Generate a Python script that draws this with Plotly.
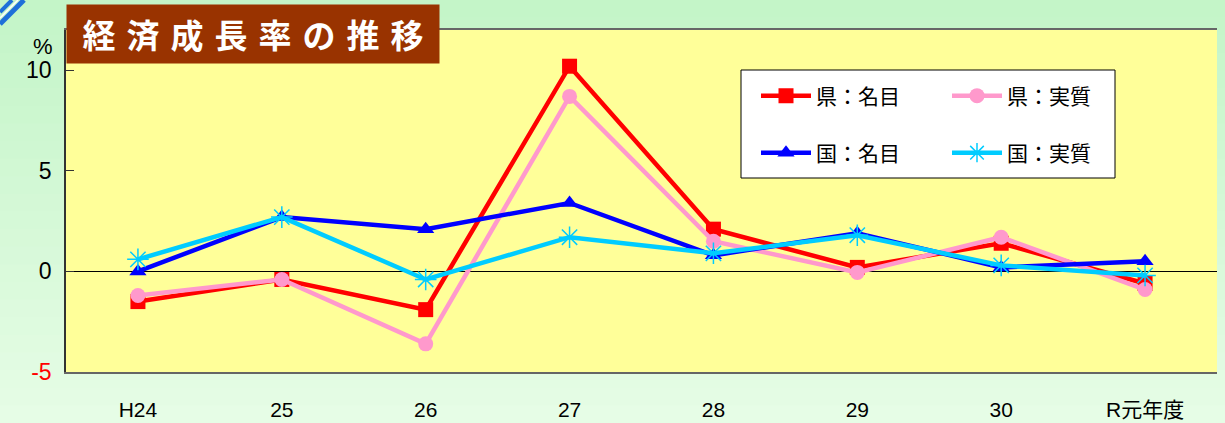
import plotly.graph_objects as go

categories = ["H24", "25", "26", "27", "28", "29", "30", "R元年度"]
ken_nominal = [-1.5, -0.4, -1.9, 10.2, 2.1, 0.2, 1.4, -0.6]
ken_real = [-1.2, -0.4, -3.6, 8.7, 1.5, -0.05, 1.7, -0.9]
kuni_nominal = [0.0, 2.7, 2.1, 3.4, 0.8, 1.9, 0.2, 0.5]
kuni_real = [0.6, 2.7, -0.4, 1.7, 0.9, 1.8, 0.3, -0.2]
series_names = ["県：名目", "県：実質", "国：名目", "国：実質"]
ytick_vals = [-5, 0, 5, 10]
ytick_text = ['<span style="color:#ff0000">-5</span>', "0", "5", "10"]
title_text = "経済成長率の推移"

W, H = 1225, 423
L, R, T, B = 66, 8, 30, 51
pw, ph = W - L - R, H - T - B

def px(x):
    return (x - L) / pw

def py(y):
    return (H - B - y) / ph

xs = list(range(len(categories)))
fig = go.Figure()

fig.add_trace(go.Scatter(x=xs, y=ken_nominal, name=series_names[0], mode="lines+markers",
                         line=dict(color="#ff0000", width=4.5),
                         marker=dict(symbol="square", size=15, color="#ff0000"), legend="legend"))
fig.add_trace(go.Scatter(x=xs, y=ken_real, name=series_names[1], mode="lines+markers",
                         line=dict(color="#ff99cc", width=4.5),
                         marker=dict(symbol="circle", size=15, color="#ff99cc"), legend="legend"))
fig.add_trace(go.Scatter(x=xs, y=kuni_nominal, name=series_names[2], mode="lines+markers",
                         line=dict(color="#0000ff", width=4.5),
                         marker=dict(symbol="triangle-up", size=15, color="#0000ff"), legend="legend2"))
fig.add_trace(go.Scatter(x=xs, y=kuni_real, name=series_names[3], mode="lines+markers",
                         line=dict(color="#00ccff", width=4.5),
                         marker=dict(symbol="asterisk-open", size=18, color="#00ccff",
                                     line=dict(color="#00ccff", width=1.5)), legend="legend2"))

shapes = []
# background gradient bands
n = 24
c0 = (196, 245, 200)
c1 = (230, 253, 230)
for i in range(n):
    t = i / (n - 1)
    c = tuple(int(c0[k] + (c1[k] - c0[k]) * t) for k in range(3))
    y_top = i * H / n
    y_bot = (i + 1) * H / n + 1
    shapes.append(dict(type="rect", xref="paper", yref="paper", layer="below",
                       x0=px(0), x1=px(W), y0=py(y_bot), y1=py(y_top),
                       line=dict(width=0), fillcolor="rgb(%d,%d,%d)" % c))
# plot area background
shapes.append(dict(type="rect", xref="paper", yref="paper", layer="below",
                   x0=0, x1=1, y0=0, y1=1, line=dict(width=0), fillcolor="#ffff99"))
# decorative blue stripes top-left
shapes.append(dict(type="line", xref="paper", yref="paper", layer="below",
                   x0=px(0), y0=py(24), x1=px(24), y1=py(0),
                   line=dict(color="#1e6fd9", width=5)))
shapes.append(dict(type="line", xref="paper", yref="paper", layer="below",
                   x0=px(0), y0=py(18), x1=px(18), y1=py(0),
                   line=dict(color="#ffffff", width=1.5)))
shapes.append(dict(type="line", xref="paper", yref="paper", layer="below",
                   x0=px(0), y0=py(12), x1=px(12), y1=py(0),
                   line=dict(color="#1e6fd9", width=4)))
# legend box
shapes.append(dict(type="rect", xref="paper", yref="paper",
                   x0=px(741), x1=px(1115), y0=py(178), y1=py(70),
                   line=dict(color="black", width=1), fillcolor="white"))

fig.update_layout(
    width=W, height=H,
    margin=dict(l=L, r=R, t=T, b=B, autoexpand=False),
    paper_bgcolor="#d8f8d8",
    plot_bgcolor="#ffff99",
    showlegend=True,
    shapes=shapes,
    font=dict(family="Liberation Sans, Arial, sans-serif", color="black"),
    xaxis=dict(tickmode="array", tickvals=xs, ticktext=categories, range=[-0.5, 7.5],
               showgrid=False, zeroline=False, ticks="", showline=True, linecolor="#666666",
               linewidth=2, mirror=True,
               tickfont=dict(size=21, family="Liberation Sans, Noto Sans CJK JP"), ticklabelstandoff=18),
    yaxis=dict(range=[-5, 12], tickvals=ytick_vals, ticktext=ytick_text, showgrid=False,
               zeroline=True, zerolinecolor="black", zerolinewidth=1,
               ticks="inside", ticklen=8, tickcolor="#333333", showline=True,
               linecolor="#333333", linewidth=1.5, tickfont=dict(size=23), ticklabelstandoff=8),
    legend=dict(orientation="h", x=px(756), y=py(96), xanchor="left", yanchor="middle",
                bgcolor="rgba(0,0,0,0)", borderwidth=0, entrywidth=126, entrywidthmode="pixels",
                itemwidth=50, font=dict(size=21, family="Noto Sans CJK JP"), tracegroupgap=0),
    legend2=dict(orientation="h", x=px(756), y=py(153), xanchor="left", yanchor="middle",
                 bgcolor="rgba(0,0,0,0)", borderwidth=0, entrywidth=126, entrywidthmode="pixels",
                 itemwidth=50, font=dict(size=21, family="Noto Sans CJK JP"), tracegroupgap=0),
    annotations=[
        dict(text="\u2004".join(title_text), xref="paper", yref="paper", x=px(66), y=py(4),
             xanchor="left", yanchor="top", showarrow=False, bgcolor="#993300",
             width=370, height=56, align="center",
             font=dict(size=33, color="white", family="Noto Sans CJK JP", weight="bold")),
        dict(text="%", xref="paper", yref="paper", x=px(43), y=py(46), xanchor="center",
             yanchor="middle", showarrow=False, font=dict(size=22)),
    ],
)

fig.write_html("out.html", config={"displayModeBar": False},
               post_script="document.body.style.margin='0';document.body.style.overflow='hidden';")
